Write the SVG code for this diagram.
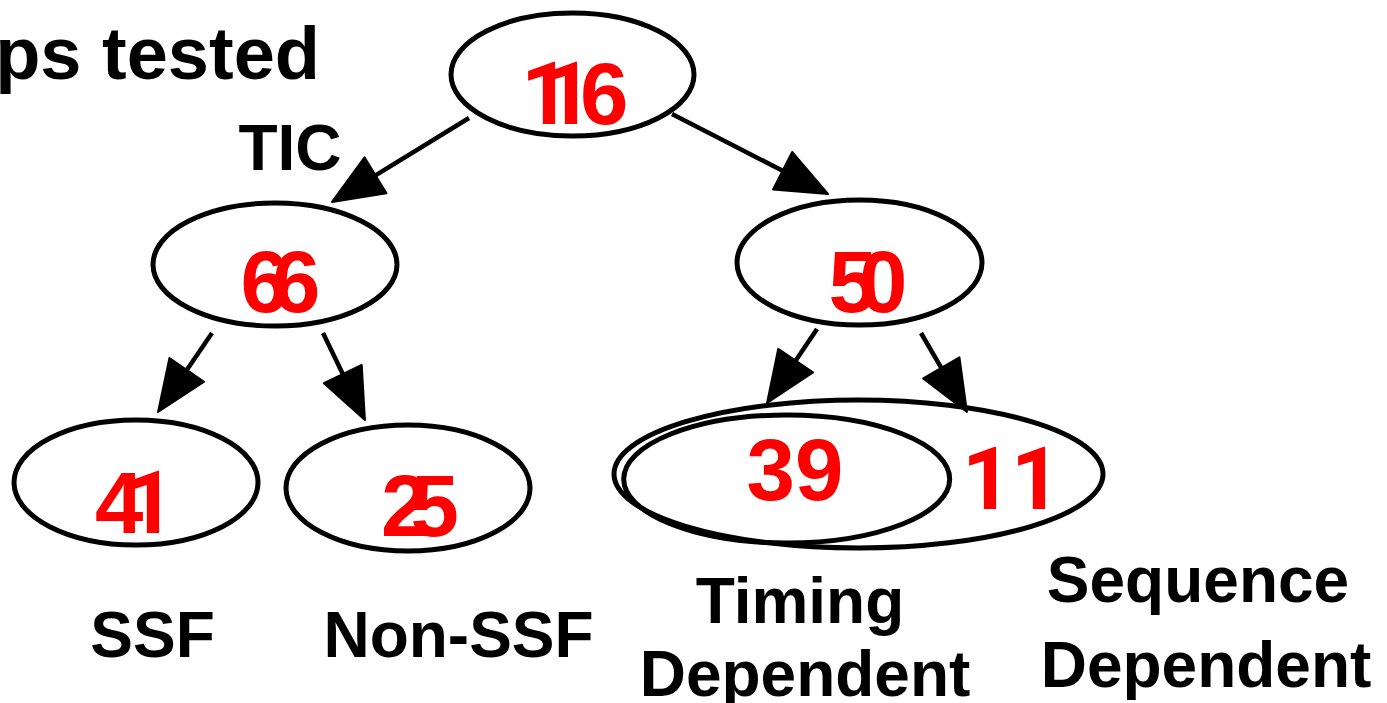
<svg xmlns="http://www.w3.org/2000/svg" width="1387" height="703" viewBox="0 0 1387 703">
<style>
.node{fill:none;stroke:#000;stroke-width:5}
.num{font-family:"Liberation Sans",Arial,sans-serif;font-weight:bold;font-size:87px;fill:#FF0000}
.one{font-family:Roboto,Arial,sans-serif;font-weight:bold}
.lbl{font-family:"Liberation Sans",Arial,sans-serif;font-weight:bold;font-size:64px;fill:#000;text-anchor:middle}
.edge{stroke:#000;stroke-width:4.5;fill:none;marker-end:url(#head)}
</style>
<defs>
<marker id="head" markerUnits="userSpaceOnUse" viewBox="0 0 51 42" markerWidth="51" markerHeight="42" refX="0" refY="21" orient="auto" overflow="visible">
<path d="M0,0 L51,21 L0,42 z" fill="#000" stroke="#000" stroke-width="2" stroke-linejoin="round"/>
</marker>
</defs>
<rect width="1387" height="703" fill="#fff"/>
<text x="320" y="79" font-family="Liberation Sans, Arial, sans-serif" font-weight="bold" font-size="74" text-anchor="end">ps tested</text>
<text class="lbl" x="290" y="170">TIC</text>
<g id="connectors">
<line class="edge" x1="469" y1="118" x2="375.5" y2="175.3"/>
<line class="edge" x1="672" y1="114" x2="782.6" y2="170.7"/>
<line class="edge" x1="212" y1="333" x2="186.8" y2="369.9"/>
<line class="edge" x1="323" y1="333" x2="342.8" y2="374.1"/>
<line class="edge" x1="817" y1="329" x2="795.6" y2="360.7"/>
<line class="edge" x1="921" y1="333" x2="941.3" y2="367.9"/>
</g>
<g id="n116">
<ellipse class="node" cx="572.5" cy="74.5" rx="121.5" ry="61.5"/>
<text class="num" y="124"><tspan class="one" x="521">1</tspan><tspan class="one" x="543">1</tspan><tspan x="580">6</tspan></text>
</g>
<g id="n66">
<ellipse class="node" cx="275" cy="264.5" rx="122" ry="61.5"/>
<text class="num" x="240.5" y="312" letter-spacing="-17">66</text>
</g>
<g id="n50">
<ellipse class="node" cx="859.5" cy="262.5" rx="122.5" ry="62.5"/>
<text class="num" x="828.5" y="312" letter-spacing="-18">50</text>
</g>
<g id="n41">
<ellipse class="node" cx="136" cy="482.5" rx="122" ry="62.5"/>
<text class="num" y="533"><tspan x="95">4</tspan><tspan class="one" x="125">1</tspan></text>
<text class="lbl" x="152.5" y="657">SSF</text>
</g>
<g id="n25">
<ellipse class="node" cx="408" cy="488" rx="122" ry="63"/>
<text class="num" x="381" y="536" letter-spacing="-19">25</text>
<text class="lbl" x="458.5" y="657">Non-SSF</text>
</g>
<g id="n11">
<ellipse class="node" cx="858.5" cy="474" rx="244.5" ry="74"/>
<text class="num" y="509"><tspan class="one" x="962">1</tspan><tspan class="one" x="1011">1</tspan></text>
<text class="lbl" x="1198" y="602">Sequence</text>
<text class="lbl" x="1206" y="687">Dependent</text>
</g>
<g id="n39">
<ellipse class="node" cx="786.7" cy="479" rx="163" ry="64"/>
<text class="num" x="746.5" y="500">39</text>
<text class="lbl" x="800" y="623">Timing</text>
<text class="lbl" x="805" y="696">Dependent</text>
</g>
</svg>
